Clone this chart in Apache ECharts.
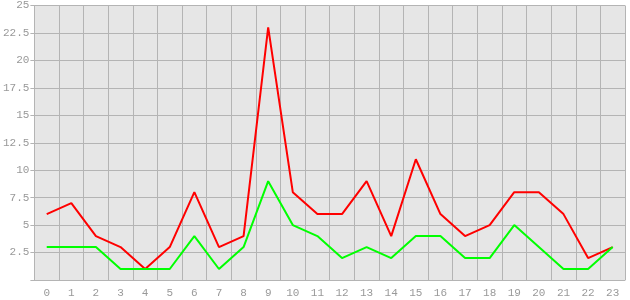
<!DOCTYPE html>
<html><head><meta charset="utf-8">
<script src="https://cdn.jsdelivr.net/npm/echarts@6/dist/echarts.min.js"></script>
<style>html,body{margin:0;padding:0;background:#fff}#c{width:630px;height:300px}</style>
</head><body><div id="c"></div>
<script>
const categories = ['0','1','2','3','4','5','6','7','8','9','10','11','12','13','14','15','16','17','18','19','20','21','22','23'];
const redValues = [6,7,4,3,1,3,8,3,4,23,8,6,6,9,4,11,6,4,5,8,8,6,2,3];
const greenValues = [3,3,3,1,1,1,4,1,3,9,5,4,2,3,2,4,4,2,2,5,3,1,1,3];

const gridColor = '#b4b4b4';
const labelStyle = {color:'#999', fontFamily:'Liberation Mono', fontSize:11};
const chart = echarts.init(document.getElementById('c'), null, {renderer:'canvas'});
chart.setOption({
  animation:false,
  grid:{left:32, right:5, top:5, bottom:20, show:true, backgroundColor:'#e6e6e6', borderWidth:0},
  xAxis:{type:'category', data:categories, boundaryGap:true,
    axisLine:{lineStyle:{color:gridColor, width:1}},
    axisTick:{alignWithLabel:true, length:4, lineStyle:{color:gridColor}},
    axisLabel:Object.assign({margin:8, interval:0}, labelStyle),
    splitLine:{show:true, interval:0, lineStyle:{color:gridColor, width:1}}},
  yAxis:{type:'value', min:0, max:25, interval:2.5,
    axisLine:{show:true, lineStyle:{color:gridColor, width:1}},
    axisTick:{show:true, length:4, lineStyle:{color:gridColor}},
    axisLabel:Object.assign({margin:5, formatter:v=> v===0?'':String(v)}, labelStyle),
    splitLine:{show:true, lineStyle:{color:gridColor, width:1}}},
  series:[
    {type:'line', data:redValues, symbol:'none', lineStyle:{color:'#ff0000', width:2}, itemStyle:{color:'#ff0000'}},
    {type:'line', data:greenValues, symbol:'none', lineStyle:{color:'#00ff00', width:2}, itemStyle:{color:'#00ff00'}}
  ]
});
</script></body></html>
